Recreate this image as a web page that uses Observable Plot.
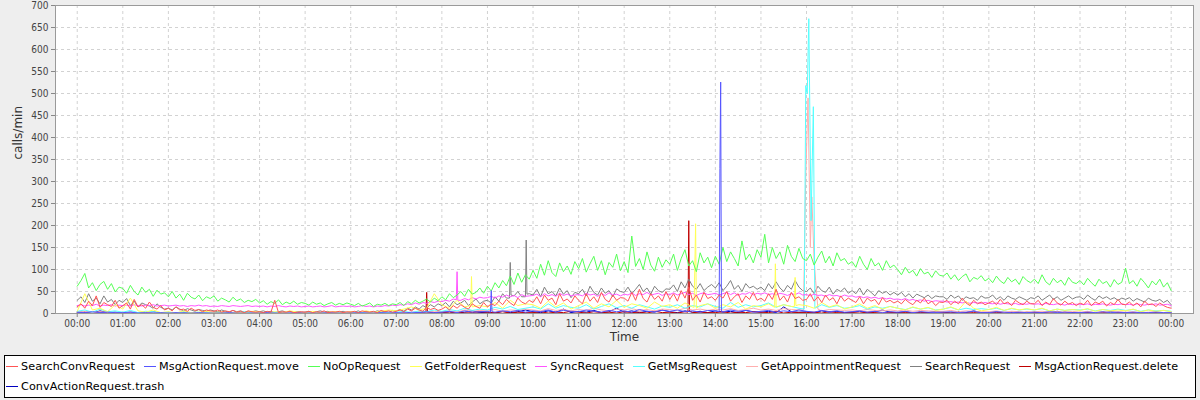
<!DOCTYPE html>
<html>
<head>
<meta charset="utf-8">
<script src="https://cdn.jsdelivr.net/npm/d3@7"></script>
<script src="https://cdn.jsdelivr.net/npm/@observablehq/plot@0.6"></script>
<style>
  html, body { margin: 0; padding: 0; background: #eeeeee; width: 1200px; height: 400px; overflow: hidden; }
  #chart svg { display: block; }
  #legend {
    position: absolute; left: 4px; top: 355px; width: 1190px; height: 41px;
    border: 1px solid #000; background: #fff; box-sizing: content-box;
    display: flex; flex-wrap: wrap; align-content: flex-start;
    font-family: "DejaVu Sans", sans-serif; font-size: 11.2px; letter-spacing: 0.1px; color: #000;
  }
  .item { display: flex; align-items: center; height: 20px; margin-right: 8px; white-space: nowrap; }
  .item .sw { width: 12px; height: 1px; margin: 0 3px 0 1px; }
</style>
</head>
<body>
<div id="chart"></div>
<div id="legend"></div>
<script>
// ---- Data (calls per minute) ----
const seriesNames = ["SearchConvRequest", "MsgActionRequest.move", "NoOpRequest", "GetFolderRequest", "SyncRequest",
  "GetMsgRequest", "GetAppointmentRequest", "SearchRequest", "MsgActionRequest.delete", "ConvActionRequest.trash"];
const seriesColors = ["#ff5555", "#5555ff", "#55ff55", "#ffff55", "#ff55ff", "#55ffff", "#ffafaf", "#808080", "#c00000", "#0000c0"];
const yTicks = [0,50,100,150,200,250,300,350,400,450,500,550,600,650,700];
const xTickMinutes = [0,60,120,180,240,300,360,420,480,540,600,660,720,780,840,900,960,1020,1080,1140,1200,1260,1320,1380,1440];

// 5-minute samples, 00:00 .. 24:00
const searchConv = [
15,22,12,28,18,40,14,25,20,16,30,12,
18,24,10,32,15,20,12,26,14,10,18,8,
12,6,15,8,10,5,12,7,9,4,8,6,
5,8,3,6,4,7,3,5,2,6,4,3,
4,2,5,3,30,2,4,3,5,2,3,4,
3,5,2,4,3,6,2,4,3,5,2,4,
3,5,2,6,4,3,5,2,7,4,6,3,
5,8,4,10,6,12,8,5,14,9,12,7,
10,15,8,18,12,20,14,10,22,16,12,25,
15,22,18,28,20,32,24,18,35,26,22,30,
25,38,22,42,30,35,20,45,28,33,24,40,
30,22,45,28,38,25,48,32,26,42,30,36,
35,28,48,30,55,34,26,45,32,40,28,50,
32,45,28,52,35,60,30,42,26,48,34,38,
30,42,35,50,28,38,45,25,40,32,48,30,
35,28,45,32,55,30,40,26,48,34,38,30,
32,45,28,38,25,42,30,36,22,40,28,35,
30,25,38,22,35,28,32,20,36,26,30,24,
28,22,32,25,20,30,24,35,22,28,18,26,
25,30,20,28,22,35,24,18,30,22,26,20,
24,28,20,32,22,26,18,30,24,20,28,22,
22,30,18,26,20,34,24,19,28,21,25,18,
24,20,30,18,26,22,28,17,25,20,32,21,
20,26,18,24,15,28,20,22,16,24,18,14,
12];
const noOp = [
62,75,91,58,70,52,66,73,55,68,49,60,
57,46,64,50,42,60,48,55,39,53,44,47,
38,50,35,44,30,46,37,33,42,29,38,34,
40,28,35,31,26,37,29,33,25,30,27,32,
24,29,21,27,23,31,20,26,22,28,21,25,
23,19,26,21,24,18,22,25,19,23,20,24,
21,18,23,17,20,24,16,21,19,23,18,22,
20,25,18,27,22,30,24,28,33,26,35,29,
38,31,45,36,42,50,39,55,44,48,58,46,
62,51,70,58,75,63,85,66,92,71,88,78,
98,80,112,87,120,93,84,115,95,108,89,118,
102,125,94,113,130,98,120,88,116,105,135,97,
118,93,176,107,125,100,140,110,96,128,105,122,
112,135,98,125,145,108,120,95,138,115,128,104,
130,112,150,118,140,125,108,165,122,135,115,145,
128,180,115,150,125,140,112,155,130,118,148,125,
120,135,110,128,142,115,130,108,138,120,125,112,
118,105,130,112,100,125,108,115,98,120,104,110,
100,88,105,92,98,85,102,90,94,82,97,87,
85,92,78,88,75,84,90,72,82,78,86,74,
80,70,85,74,68,82,72,78,66,84,75,70,
78,68,88,72,65,80,70,76,64,82,71,68,
75,65,80,70,62,78,68,73,60,77,66,71,
103,68,75,62,80,70,58,74,65,78,60,70,
52];
const sync = [
18,20,17,19,18,21,17,19,18,20,17,19,
18,19,17,20,18,17,19,18,20,17,18,19,
17,18,19,17,18,16,18,17,19,17,18,16,
17,16,18,17,16,18,17,16,17,18,16,17,
16,17,15,17,16,18,16,15,17,16,17,15,
16,17,15,16,17,15,16,18,15,16,17,16,
17,15,16,18,16,17,15,17,16,18,17,19,
18,20,19,22,20,24,21,25,23,27,25,28,
27,30,28,33,31,30,34,31,36,33,37,35,
36,39,35,40,37,42,38,41,36,43,39,40,
41,44,38,45,40,43,39,46,41,44,40,42,
43,40,46,42,44,39,45,41,47,42,44,40,
44,42,47,41,45,43,48,42,44,46,41,45,
43,47,42,45,48,43,46,41,45,47,43,44,
46,42,45,48,43,47,41,45,44,48,42,46,
44,47,43,45,42,46,44,41,45,43,47,42,
43,40,44,41,42,39,43,40,41,38,42,39,
40,37,39,36,38,35,37,34,36,33,35,32,
33,31,34,30,32,29,31,28,30,27,29,28,
28,26,27,25,26,24,26,23,25,24,23,25,
23,22,24,21,23,22,21,23,20,22,21,23,
21,22,20,23,21,20,22,21,19,22,20,21,
21,20,22,19,21,20,22,20,19,21,20,22,
20,21,19,22,20,19,21,20,22,19,20,21,
18];
const search = [
30,38,25,45,28,35,22,40,26,32,20,30,
25,34,18,28,15,24,20,17,12,22,14,10,
12,8,15,10,6,11,8,5,9,7,5,8,
6,4,8,5,3,7,4,6,3,5,4,6,
4,6,3,5,2,4,6,3,5,2,4,3,
3,5,2,4,6,3,5,2,4,3,5,2,
4,3,6,2,5,4,3,6,4,5,3,7,
6,9,5,12,8,15,10,18,13,20,15,22,
18,25,15,28,20,24,30,18,26,33,22,28,
30,24,38,28,45,35,42,40,50,38,44,45,
42,55,38,60,45,50,40,58,44,52,36,48,
45,55,40,62,48,42,58,46,52,38,56,50,
48,60,45,55,66,50,58,44,62,52,48,56,
55,65,50,72,58,78,62,55,68,52,60,66,
58,70,52,62,75,55,64,50,68,58,62,55,
60,52,68,56,72,58,50,64,55,75,60,52,
50,58,45,62,52,48,60,44,55,50,58,46,
52,45,58,42,55,48,40,52,46,50,42,48,
42,48,38,45,35,44,40,36,42,34,40,38,
38,32,42,35,40,30,38,34,36,30,40,35,
36,42,32,38,30,40,35,32,38,34,30,36,
34,40,30,36,42,32,38,30,35,40,33,37,
38,32,42,35,30,40,34,38,32,36,30,35,
32,36,28,34,30,26,35,30,28,32,25,30,
20];

// 10-minute samples, 00:00 .. 24:00
const getFolder = [
5,45,8,12,4,20, 10,35,6,3,8,2, 4,1,6,2,3,5, 2,4,1,3,2,5, 3,1,4,2,6,3, 2,5,1,3,4,2,
4,2,6,3,5,8, 6,10,15,8,12,45, 20,12,30,15,22,18, 15,25,12,30,18,22, 20,12,28,15,24,10, 18,26,12,22,15,30,
14,22,18,12,26,16, 20,12,24,15,18,22, 12,20,15,25,10,18, 15,22,14,20,16,20, 18,12,25,15,20,10, 15,22,12,18,10,16,
12,8,15,10,14,7, 10,15,8,28,12,6, 9,14,7,12,8,11, 8,12,6,10,7,9, 7,11,5,9,6,8, 6,10,4,8,5,7,
4];
const getMsg = [
5,8,3,10,4,6, 3,7,2,5,4,2, 3,1,4,2,3,1, 2,3,1,2,4,1, 2,1,3,2,1,3, 1,2,3,1,2,1,
2,3,1,4,2,3, 3,5,2,6,4,8, 5,9,6,12,7,10, 8,14,10,16,9,12, 15,10,22,12,18,14, 12,20,10,16,22,13,
18,12,20,15,10,17, 14,20,12,18,15,22, 16,12,25,14,20,15, 18,24,14,20,16,12, 15,10,20,14,18,12, 14,18,10,15,12,16,
12,9,14,10,13,8, 10,14,8,12,9,11, 9,12,7,11,8,10, 8,11,6,10,7,9, 8,10,6,9,7,10, 7,9,5,8,6,7,
5];
const getAppointment = [
3,5,2,4,3,2, 2,3,1,2,3,1, 1,2,1,1,2,1, 1,1,2,1,1,2, 1,2,1,1,2,1, 1,1,2,1,1,2,
1,2,1,2,1,3, 2,3,2,4,3,5, 4,6,3,8,5,7, 6,9,5,8,7,10, 8,6,11,7,9,6, 9,7,12,8,6,10,
8,11,7,9,6,10, 9,7,12,8,10,7, 10,8,11,7,9,12, 8,10,7,11,9,8, 7,10,6,9,8,7, 8,6,9,7,6,8,
6,8,5,7,6,5, 5,7,4,6,5,4, 4,6,3,5,4,3, 4,5,3,4,3,5, 3,5,2,4,3,4, 3,4,2,3,4,2,
2];
const msgMove = [
3,2,4,2,3,2, 2,3,1,2,1,2, 1,2,1,1,2,1, 1,1,2,1,1,1, 1,2,1,1,1,2, 1,1,1,2,1,1,
1,2,1,1,2,1, 2,1,3,2,4,2, 3,5,2,6,3,4, 5,3,6,4,7,3, 6,4,8,3,7,5, 4,8,5,3,7,4,
6,3,9,5,4,7, 5,8,4,6,3,7, 6,4,8,5,7,3, 5,7,3,6,4,8, 5,3,7,4,6,3, 4,6,3,5,2,4,
3,5,2,4,3,2, 3,4,2,3,5,2, 2,4,3,2,3,2, 3,2,4,2,3,2, 2,3,2,4,2,3, 2,3,2,2,3,2,
2];
const msgDelete = [
1,2,0,3,1,2, 1,0,2,1,0,1, 0,1,0,1,0,0, 1,0,0,1,0,1, 0,0,1,0,0,1, 0,1,0,0,1,0,
1,0,0,1,0,1, 1,0,2,1,1,2, 2,1,3,1,2,4, 3,2,4,1,3,2, 2,4,1,3,2,5, 3,1,4,2,3,1,
4,2,3,1,5,2, 3,1,4,2,3,2, 2,4,1,3,2,4, 3,2,5,1,3,2, 2,3,1,4,2,1, 2,1,3,2,1,3,
1,2,1,3,1,2, 2,1,3,1,2,1, 1,2,1,2,1,3, 2,1,2,1,3,1, 1,2,1,3,1,2, 1,2,1,1,2,1,
1];
const convTrash = [
2,4,1,6,2,3, 1,3,2,1,4,1, 1,0,2,1,0,1, 0,1,0,1,1,0, 1,0,1,0,1,0, 0,1,0,1,0,1,
1,0,1,0,1,2, 1,2,1,3,2,1, 2,4,1,3,6,2, 3,1,5,2,4,8, 4,2,6,3,10,2, 5,3,7,2,4,12,
3,6,2,5,3,8, 4,2,6,3,5,2, 6,3,5,2,7,4, 3,5,2,15,4,3, 4,2,6,3,5,2, 3,5,2,4,8,3,
2,4,1,3,2,5, 3,1,4,2,6,2, 2,4,1,3,2,1, 3,1,2,5,1,2, 1,3,2,1,4,2, 2,1,3,1,2,1,
1];

// short bursts sampled per minute: [minute of day, calls/min]
const searchConvBursts = [];
const msgMoveBursts = [[[544,3],[545,52],[546,4]], [[845,4],[846,330],[847,526],[848,5]]];
const noOpBursts = [];
const getFolderBursts = [[[812,14],[814,204],[815,12]], [[918,14],[919,113],[920,15]], [[944,16],[945,82],[946,18]], [[518,18],[519,84],[520,15]]];
const syncBursts = [[[499,31],[500,95],[501,30]]];
const getMsgBursts = [[[957,10],[959,518],[961,500],[963,670],[966,211],[969,470],[971,12]]];
const getAppointmentBursts = [[[956,8],[959,310],[962,490],[965,150],[967,265],[970,120],[972,75],[975,10]]];
const searchBursts = [[[569,35],[570,116],[571,42]], [[590,38],[591,167],[592,44]]];
const msgDeleteBursts = [[[459,1],[460,48],[461,2]], [[804,3],[805,211],[806,6]]];
const convTrashBursts = [];

const seriesValues = [searchConv, msgMove, noOp, getFolder, sync, getMsg, getAppointment, search, msgDelete, convTrash];
const seriesSteps = [5, 10, 5, 10, 5, 10, 10, 5, 10, 10];
const seriesBursts = [searchConvBursts, msgMoveBursts, noOpBursts, getFolderBursts, syncBursts, getMsgBursts, getAppointmentBursts, searchBursts, msgDeleteBursts, convTrashBursts];

function buildSeries(values, step, bursts) {
  let pts = values.map((v, i) => ({t: i * step, v}));
  for (const b of bursts) {
    const lo = b[0][0], hi = b[b.length - 1][0];
    pts = pts.filter(p => p.t < lo || p.t > hi);
    pts.push(...b.map(([t, v]) => ({t, v})));
  }
  pts.sort((a, b) => a.t - b.t);
  return pts;
}
const series = seriesNames.map((name, i) => ({name, color: seriesColors[i], data: buildSeries(seriesValues[i], seriesSteps[i], seriesBursts[i])}));

const fmt = m => String(Math.floor(m / 60) % 24).padStart(2, "0") + ":" + String(m % 60).padStart(2, "0");
const tickFont = {fontFamily: "'DejaVu Sans Condensed', 'DejaVu Sans', sans-serif", fontSize: 10, fill: "#444"};

const lines = series.slice().reverse().map(s => Plot.line(s.data, {x: "t", y: "v", stroke: s.color, strokeWidth: 1, curve: "linear"}));

const chart = Plot.plot({
  width: 1200,
  height: 350,
  marginLeft: 55,
  marginRight: 7,
  marginTop: 5,
  marginBottom: 37,
  style: {background: "transparent", fontFamily: "'DejaVu Sans', sans-serif", fontSize: "10px", overflow: "visible"},
  x: {type: "linear", domain: [-28.6, 1469.4]},
  y: {domain: [0, 700]},
  marks: [
    Plot.frame({fill: "white", stroke: "none"}),
    Plot.gridX(xTickMinutes, {stroke: "#d2d2d2", strokeOpacity: 1, strokeDasharray: "3,3"}),
    Plot.gridY(yTicks, {stroke: "#d2d2d2", strokeOpacity: 1, strokeDasharray: "3,3"}),
    ...lines,
    Plot.frame({stroke: "#9a9a9a"}),
    Plot.axisY(yTicks, {tickSize: 4, tickPadding: 3, stroke: "#888", label: null, ...tickFont}),
    Plot.axisX(xTickMinutes, {tickSize: 4, tickPadding: 2, stroke: "#888", label: null, tickFormat: fmt, ...tickFont}),
    Plot.text(["Time"], {frameAnchor: "bottom", dy: 27, fontSize: 12, fill: "#333", fontFamily: "'DejaVu Sans', sans-serif"}),
    Plot.text(["calls/min"], {frameAnchor: "left", dx: -37, rotate: -90, fontSize: 12, fill: "#333", fontFamily: "'DejaVu Sans', sans-serif"})
  ]
});
document.getElementById("chart").appendChild(chart);

const legend = document.getElementById("legend");
for (const s of series) {
  const item = document.createElement("div");
  item.className = "item";
  const sw = document.createElement("span");
  sw.className = "sw";
  sw.style.background = s.color;
  const label = document.createElement("span");
  label.textContent = s.name;
  item.appendChild(sw);
  item.appendChild(label);
  legend.appendChild(item);
}
</script>
</body>
</html>
